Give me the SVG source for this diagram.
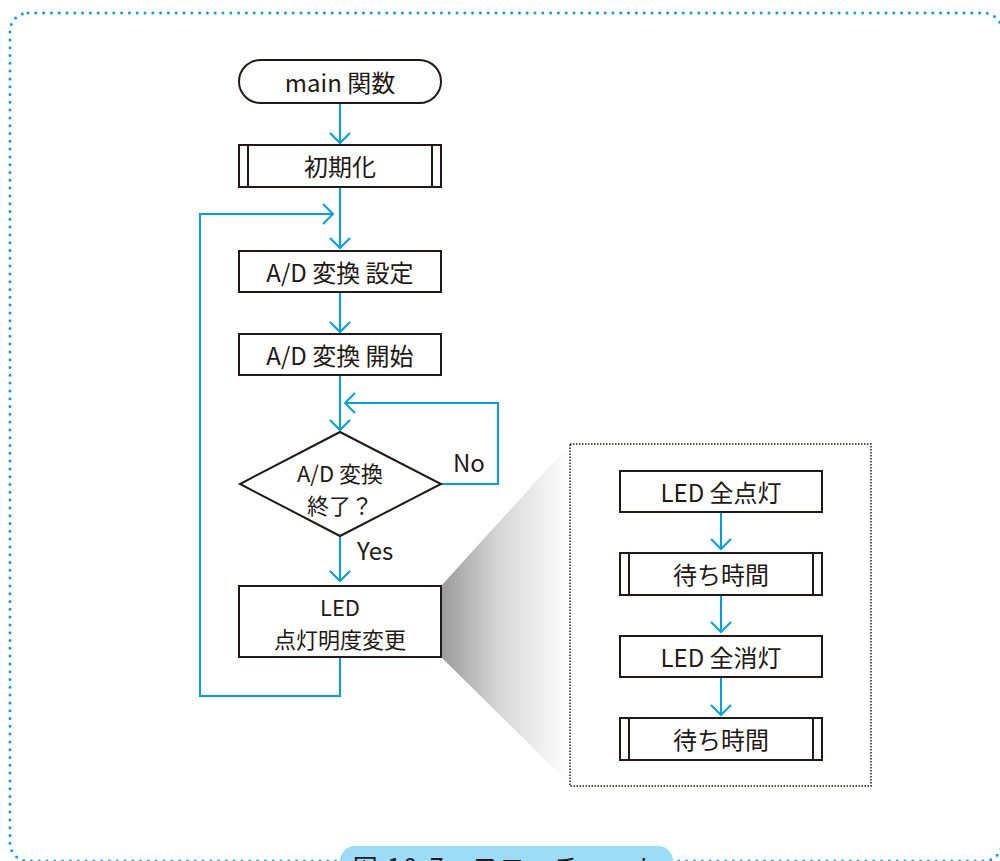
<svg xmlns="http://www.w3.org/2000/svg" width="1000" height="861" viewBox="0 0 1000 861">
<style>
.box{fill:#fff;stroke:#231815;stroke-width:2}
.sub{fill:none;stroke:#231815;stroke-width:2}
.t{font-family:"Noto Sans CJK JP","Noto Sans",sans-serif;font-size:24px;fill:#231815;text-anchor:middle;dominant-baseline:central}
.t2{font-family:"Noto Sans CJK JP","Noto Sans",sans-serif;font-size:22px;fill:#231815;text-anchor:middle;dominant-baseline:central}
.lbl{font-family:"Noto Sans CJK JP","Noto Sans",sans-serif;font-size:24px;fill:#231815;dominant-baseline:central}
.c{fill:none;stroke:#00a0e9;stroke-width:2}
</style>
<defs>
<marker id="arr" viewBox="-12 -12 24 24" markerWidth="24" markerHeight="24" refX="0" refY="0" orient="auto" markerUnits="userSpaceOnUse">
<path d="M-10,-10 L0,0 L-10,10" fill="none" stroke="#00a0e9" stroke-width="2"/>
</marker>
<linearGradient id="shade" x1="441" y1="0" x2="570" y2="0" gradientUnits="userSpaceOnUse">
<stop offset="0" stop-color="#9a9a9a"/>
<stop offset="0.45" stop-color="#d6d6d6"/>
<stop offset="1" stop-color="#ffffff"/>
</linearGradient>
</defs>
<rect width="1000" height="861" fill="#fff"/>
<rect x="10" y="13" width="992" height="848" rx="18" fill="none" stroke="#00a0e9" stroke-width="3" stroke-linecap="round" stroke-dasharray="0 7.8"/>

<polygon points="441,586 570,444 570,784 441,657" fill="url(#shade)"/>
<rect x="570" y="444" width="301" height="342" fill="none" stroke="#231815" stroke-width="1.5" stroke-dasharray="1.5 1.5"/>

<g id="connectors">
<path class="c" d="M340,103 V143" marker-end="url(#arr)"/>
<path class="c" d="M340,187 V248" marker-end="url(#arr)"/>
<path class="c" d="M340,657 V696 H200 V214 H333" marker-end="url(#arr)"/>
<path class="c" d="M340,292 V332" marker-end="url(#arr)"/>
<path class="c" d="M340,375 V430" marker-end="url(#arr)"/>
<path class="c" d="M441,484 H498 V403 H345" marker-end="url(#arr)"/>
<path class="c" d="M340,536 V581" marker-end="url(#arr)"/>
<path class="c" d="M721,512 V549" marker-end="url(#arr)"/>
<path class="c" d="M721,595 V632" marker-end="url(#arr)"/>
<path class="c" d="M721,677 V715" marker-end="url(#arr)"/>
</g>

<g id="main">
<rect class="box" x="239" y="60" width="202" height="43" rx="21.5"/>
<text class="t" x="340" y="81">main 関数</text>
</g>
<g id="init">
<rect class="box" x="239" y="145" width="202" height="42"/>
<path class="sub" d="M248,145 V187 M432,145 V187"/>
<text class="t" x="340" y="165">初期化</text>
</g>
<g id="adset">
<rect class="box" x="239" y="251" width="202" height="41"/>
<text class="t" x="340" y="271">A/D 変換 設定</text>
</g>
<g id="adstart">
<rect class="box" x="239" y="334" width="202" height="41"/>
<text class="t" x="340" y="354">A/D 変換 開始</text>
</g>
<g id="decision">
<polygon class="box" points="340,432 441,484 340,536 240,484"/>
<text class="t2" x="340" y="472">A/D 変換</text>
<text class="t2" x="340" y="504">終了？</text>
<text class="lbl" x="453" y="461">No</text>
<text class="lbl" x="357" y="549">Yes</text>
</g>
<g id="ledchange">
<rect class="box" x="239" y="586" width="202" height="71"/>
<text class="t2" x="340" y="606">LED</text>
<text class="t2" x="340" y="638">点灯明度変更</text>
</g>

<g id="ledon">
<rect class="box" x="620" y="471" width="202" height="41"/>
<text class="t" x="721" y="491">LED 全点灯</text>
</g>
<g id="wait1">
<rect class="box" x="620" y="553" width="202" height="42"/>
<path class="sub" d="M629,553 V595 M813,553 V595"/>
<text class="t" x="721" y="573">待ち時間</text>
</g>
<g id="ledoff">
<rect class="box" x="620" y="636" width="202" height="41"/>
<text class="t" x="721" y="656">LED 全消灯</text>
</g>
<g id="wait2">
<rect class="box" x="620" y="718" width="202" height="42"/>
<path class="sub" d="M629,718 V760 M813,718 V760"/>
<text class="t" x="721" y="738">待ち時間</text>
</g>

<g id="caption">
<rect x="340" y="846" width="333" height="40" rx="15" fill="#9ddcf6"/>
<text x="507" y="877" font-family="'Noto Sans CJK JP','Noto Sans',sans-serif" font-size="25" fill="#231815" text-anchor="middle" letter-spacing="2">図 10-7　フローチャート</text>
</g>
</svg>
